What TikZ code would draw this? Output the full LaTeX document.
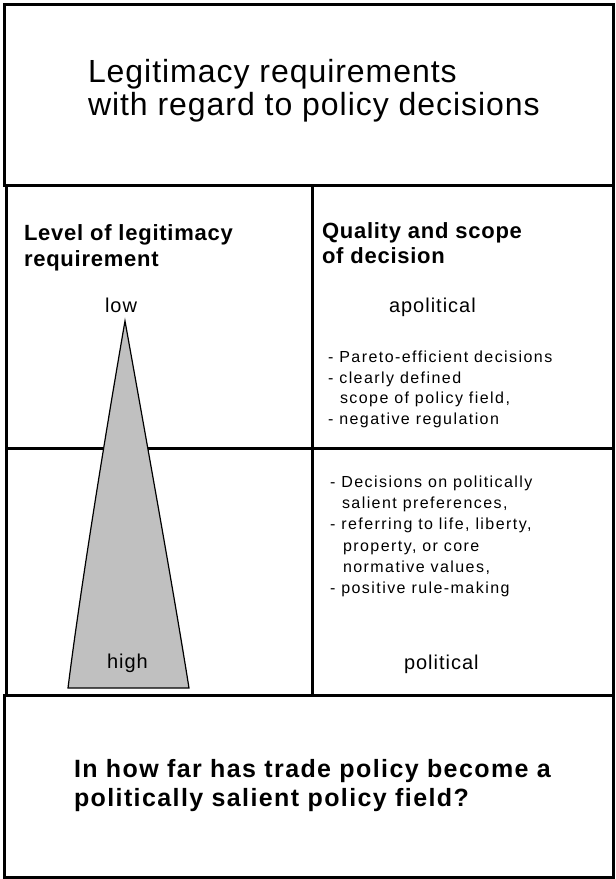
\documentclass[tikz,border=0pt]{standalone}
\usepackage{fontspec}
\setmainfont{Liberation Sans}
\newfontfamily\titlefont[LetterSpace=3]{Liberation Sans}
\newfontfamily\headfont[LetterSpace=3.4]{Liberation Sans}
\newfontfamily\listfont[LetterSpace=9]{Liberation Sans}
\newfontfamily\labfont[LetterSpace=5]{Liberation Sans}
\newfontfamily\qfont[LetterSpace=5.6]{Liberation Sans}
\definecolor{trigray}{HTML}{C0C0C0}
\tikzset{
  frame/.style={line width=3pt, line cap=rect},
  txt/.style={anchor=base west, inner sep=0pt, outer sep=0pt},
  titletxt/.style={txt, font=\titlefont\fontsize{32}{33}\selectfont},
  headtxt/.style={txt, font=\headfont\bfseries\fontsize{22}{26}\selectfont},
  listtxt/.style={txt, font=\listfont\fontsize{16}{20}\selectfont},
  labtxt/.style={txt, font=\labfont\fontsize{20}{24}\selectfont},
  qtxt/.style={txt, font=\qfont\bfseries\fontsize{25}{30}\selectfont},
  tri/.style={fill=trigray, draw=black, line width=1.2pt, line join=miter}
}
\begin{document}
\begin{tikzpicture}[x=1pt,y=-1pt]
\useasboundingbox (0,0) rectangle (616,879);
% frames
\draw[frame] (4,4) rectangle (613,185);
\draw[frame] (6,185) -- (6,695);
\draw[frame] (613,185) -- (613,695);
\draw[frame] (312,185) -- (312,695);
\draw[frame] (6,448) -- (613,448);
\draw[frame] (4,695) rectangle (613,877);
% triangle
\draw[tri] (125,321) .. controls (101,460) and (79,600) .. (68,688)
  -- (189,688) .. controls (175,600) and (150,460) .. cycle;
% title
\node[titletxt] (t1) at (88,82) {Legitimacy requirements};
\node[titletxt] (t2) at (88,115) {with regard to policy decisions};
% left header
\node[headtxt] (h1) at (24,240) {Level of legitimacy};
\node[headtxt] (h2) at (24,266) {requirement};
\node[labtxt] (low) at (105,312) {low};
\node[labtxt] (high) at (107,668) {high};
% right header
\node[headtxt] (q1) at (322,238) {Quality and scope};
\node[headtxt] (q2) at (322,263) {of decision};
\node[labtxt] (apol) at (389,312) {apolitical};
% apolitical list
\node[listtxt] (a1) at (328,362) {-\hspace{6pt}Pareto-efficient decisions};
\node[listtxt] (a2) at (328,383) {-\hspace{6pt}clearly defined};
\node[listtxt] (a3) at (340,403) {scope of policy field,};
\node[listtxt] (a4) at (328,424) {-\hspace{6pt}negative regulation};
% political list
\node[listtxt] (p1) at (330,487) {-\hspace{6pt}Decisions on politically};
\node[listtxt] (p2) at (342,508) {salient preferences,};
\node[listtxt] (p3) at (330,529) {-\hspace{6pt}referring to life, liberty,};
\node[listtxt] (p4) at (343,551) {property, or core};
\node[listtxt] (p5) at (343,572) {normative values,};
\node[listtxt] (p6) at (330,593) {-\hspace{6pt}positive rule-making};
\node[labtxt] (pol) at (404,669) {political};
% question
\node[qtxt] (b1) at (74,777) {In how far has trade policy become a};
\node[qtxt] (b2) at (74,806) {politically salient policy field?};
\end{tikzpicture}
\end{document}
